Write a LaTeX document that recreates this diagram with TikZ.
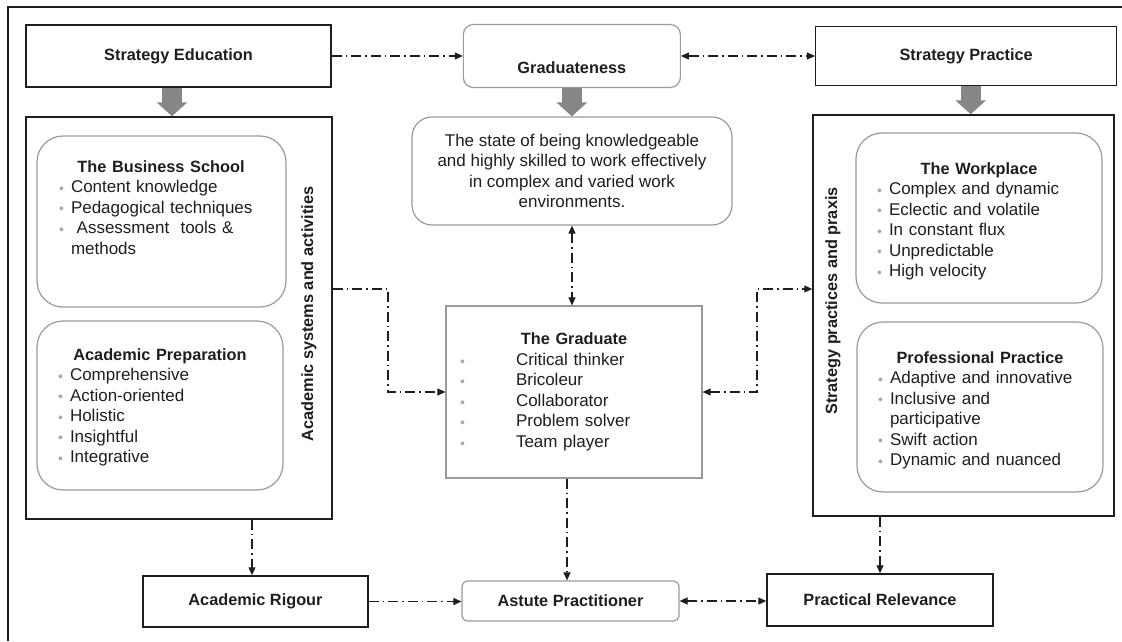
\documentclass[tikz,border=0pt]{standalone}
\usepackage{fontspec}
\setmainfont{Liberation Sans}
\usetikzlibrary{arrows.meta,positioning}

\definecolor{inkdark}{HTML}{1E1E1E}
\definecolor{linegray}{HTML}{9A9A9A}
\definecolor{arrowgray}{HTML}{868686}
\definecolor{dotgray}{HTML}{A8A8A8}

\newcommand{\bul}{\raisebox{-0.8pt}{\textcolor{dotgray}{\fontsize{14}{14}\selectfont\textbullet}}}
\newcommand{\itm}[1]{\makebox[12pt][l]{\bul}#1}
\newcommand{\gitm}[1]{\makebox[56pt][l]{\bul}#1}
\newcommand{\head}[1]{{\centering\bfseries\fontsize{16.3}{20.5}\selectfont #1\par}}

\begin{document}
\begin{tikzpicture}[x=1pt,y=-1pt,>={Triangle[length=8pt,width=7pt]},
   every node/.style={text=inkdark},
   blackbox/.style={draw=inkdark,line width=1.5pt,inner sep=0pt,
      font=\fontsize{16.3}{19.6}\selectfont\bfseries},
   roundbox/.style={draw=linegray,line width=1.2pt,inner sep=0pt,rounded corners=26pt},
   listtext/.style={text width=204pt,inner sep=0pt,align=left,
      font=\fontsize{17}{20.5}\selectfont},
   sidelabel/.style={rotate=90,inner sep=0pt,font=\fontsize{16.3}{19.6}\selectfont\bfseries},
   blockarrow/.style={draw=arrowgray,line width=20pt,-{Triangle[length=14pt,width=30pt]}},
   link/.style={draw=inkdark,line width=1.1pt,dash pattern=on 10pt off 4pt on 1.5pt off 4pt}]
   \useasboundingbox (0,0) rectangle (1122,641);
   \draw[inkdark,line width=1.3pt] (8,641) -- (8,7) -- (1122,7);

   % top row
   \node[blackbox,minimum width=305pt,minimum height=62pt] (edu) at (178.5,56) {Strategy Education};
   \node[roundbox,rounded corners=10pt,minimum width=217pt,minimum height=63pt,
      font=\fontsize{16.3}{19.6}\selectfont\bfseries] (gradness) [right=131pt of edu]
      {\raisebox{-17.5pt}[0pt][0pt]{Graduateness}};
   \node[blackbox,minimum width=301pt,minimum height=59pt] (prac) [right=134pt of gradness] {Strategy Practice};

   % outer columns
   \node[blackbox,minimum width=306pt,minimum height=402pt] (acadsys) at (179,318) {};
   \node[blackbox,minimum width=301pt,minimum height=401pt] (strprax) at (963.5,315.5) {};
   \node[sidelabel] (acadlbl) at (309,314) {Academic systems and activities};
   \node[sidelabel] (praxlbl) at (833,301) {Strategy practices and praxis};

   \node[roundbox,minimum width=249pt,minimum height=171pt] (bschool) at (161.5,221.5) {};
   \node[listtext,anchor=north] (bschooltxt) at (161,160) {\head{The Business School}%
      \itm{Content knowledge}\\\itm{Pedagogical techniques}\\
      \itm{~Assessment~~tools \&}\\\hspace*{12pt}methods};
   \node[roundbox,minimum width=246pt,minimum height=169pt] (acadprep) at (160,405.5) {};
   \node[listtext,anchor=north] (acadpreptxt) at (160,348) {\head{Academic Preparation}%
      \itm{Comprehensive}\\\itm{Action-oriented}\\\itm{Holistic}\\
      \itm{Insightful}\\\itm{Integrative}};

   \node[roundbox,minimum width=246pt,minimum height=170pt] (workplace) at (979,218) {};
   \node[listtext,anchor=north] (workplacetxt) at (979,162) {\head{The Workplace}%
      \itm{Complex and dynamic}\\\itm{Eclectic and volatile}\\\itm{In constant flux}\\
      \itm{Unpredictable}\\\itm{High velocity}};
   \node[roundbox,minimum width=246pt,minimum height=170pt] (profprac) at (980,407) {};
   \node[listtext,anchor=north] (profpractxt) at (980,351) {\head{Professional Practice}%
      \itm{Adaptive and innovative}\\\itm{Inclusive and}\\\hspace*{12pt}participative\\
      \itm{Swift action}\\\itm{Dynamic and nuanced}};

   % centre column
   \node[roundbox,rounded corners=20pt,minimum width=320pt,minimum height=108pt,align=center,
      font=\fontsize{17}{20.6}\selectfont] (statedef) at (572,171)
      {The state of being knowledgeable\\and highly skilled to work effectively\\
       in complex and varied work\\environments.};
   \node[draw=linegray,line width=1.2pt,minimum width=256pt,minimum height=172pt,
      text width=228pt,inner sep=0pt,align=left,font=\fontsize{17}{20.5}\selectfont]
      (grad) at (574,392) {\head{The Graduate}%
      \gitm{Critical thinker}\\\gitm{Bricoleur}\\\gitm{Collaborator}\\
      \gitm{Problem solver}\\\gitm{Team player}};

   % bottom row
   \node[blackbox,minimum width=225pt,minimum height=51pt] (rigour) at (255.5,601.5) {Academic Rigour};
   \node[roundbox,rounded corners=6pt,minimum width=217pt,minimum height=40pt,
      font=\fontsize{16.3}{19.6}\selectfont\bfseries] (astute) at (570.5,601) {Astute Practitioner};
   \node[blackbox,minimum width=226pt,minimum height=52pt] (relev) at (880,600) {Practical Relevance};

   % block arrows
   \draw[blockarrow] ([xshift=-6.5pt]edu.south) -- ([xshift=-6.5pt]edu.south |- acadsys.north);
   \draw[blockarrow] (gradness.south) -- (gradness.south |- statedef.north);
   \draw[blockarrow] ([xshift=4.5pt]prac.south) -- ([xshift=4.5pt]prac.south |- strprax.north);

   % dash-dot links
   \coordinate (lbend) at (388,289);
   \coordinate (rbend) at (757,289);
   \draw[link,->]  (edu.east) -- (edu.east -| gradness.west);
   \draw[link,<->] (gradness.east) -- (gradness.east -| prac.west);
   \draw[link,<->] (statedef.south) -- (statedef.south |- grad.north);
   \draw[link,->]  (lbend -| acadsys.east) -- (lbend) |- (grad.west);
   \draw[link,<->] (grad.east) -| (rbend) -- (rbend -| strprax.west);
   \draw[link,->]  ([xshift=-3.5pt]rigour.north |- acadsys.south) -- ([xshift=-3.5pt]rigour.north);
   \draw[link,->]  ([xshift=-3.5pt]astute.north |- grad.south) -- ([xshift=-3.5pt]astute.north);
   \draw[link,->]  (relev.north |- strprax.south) -- (relev.north);
   \draw[link,->]  (rigour.east) -- (rigour.east -| astute.west);
   \draw[link,<->] (astute.east) -- (astute.east -| relev.west);
\end{tikzpicture}
\end{document}
